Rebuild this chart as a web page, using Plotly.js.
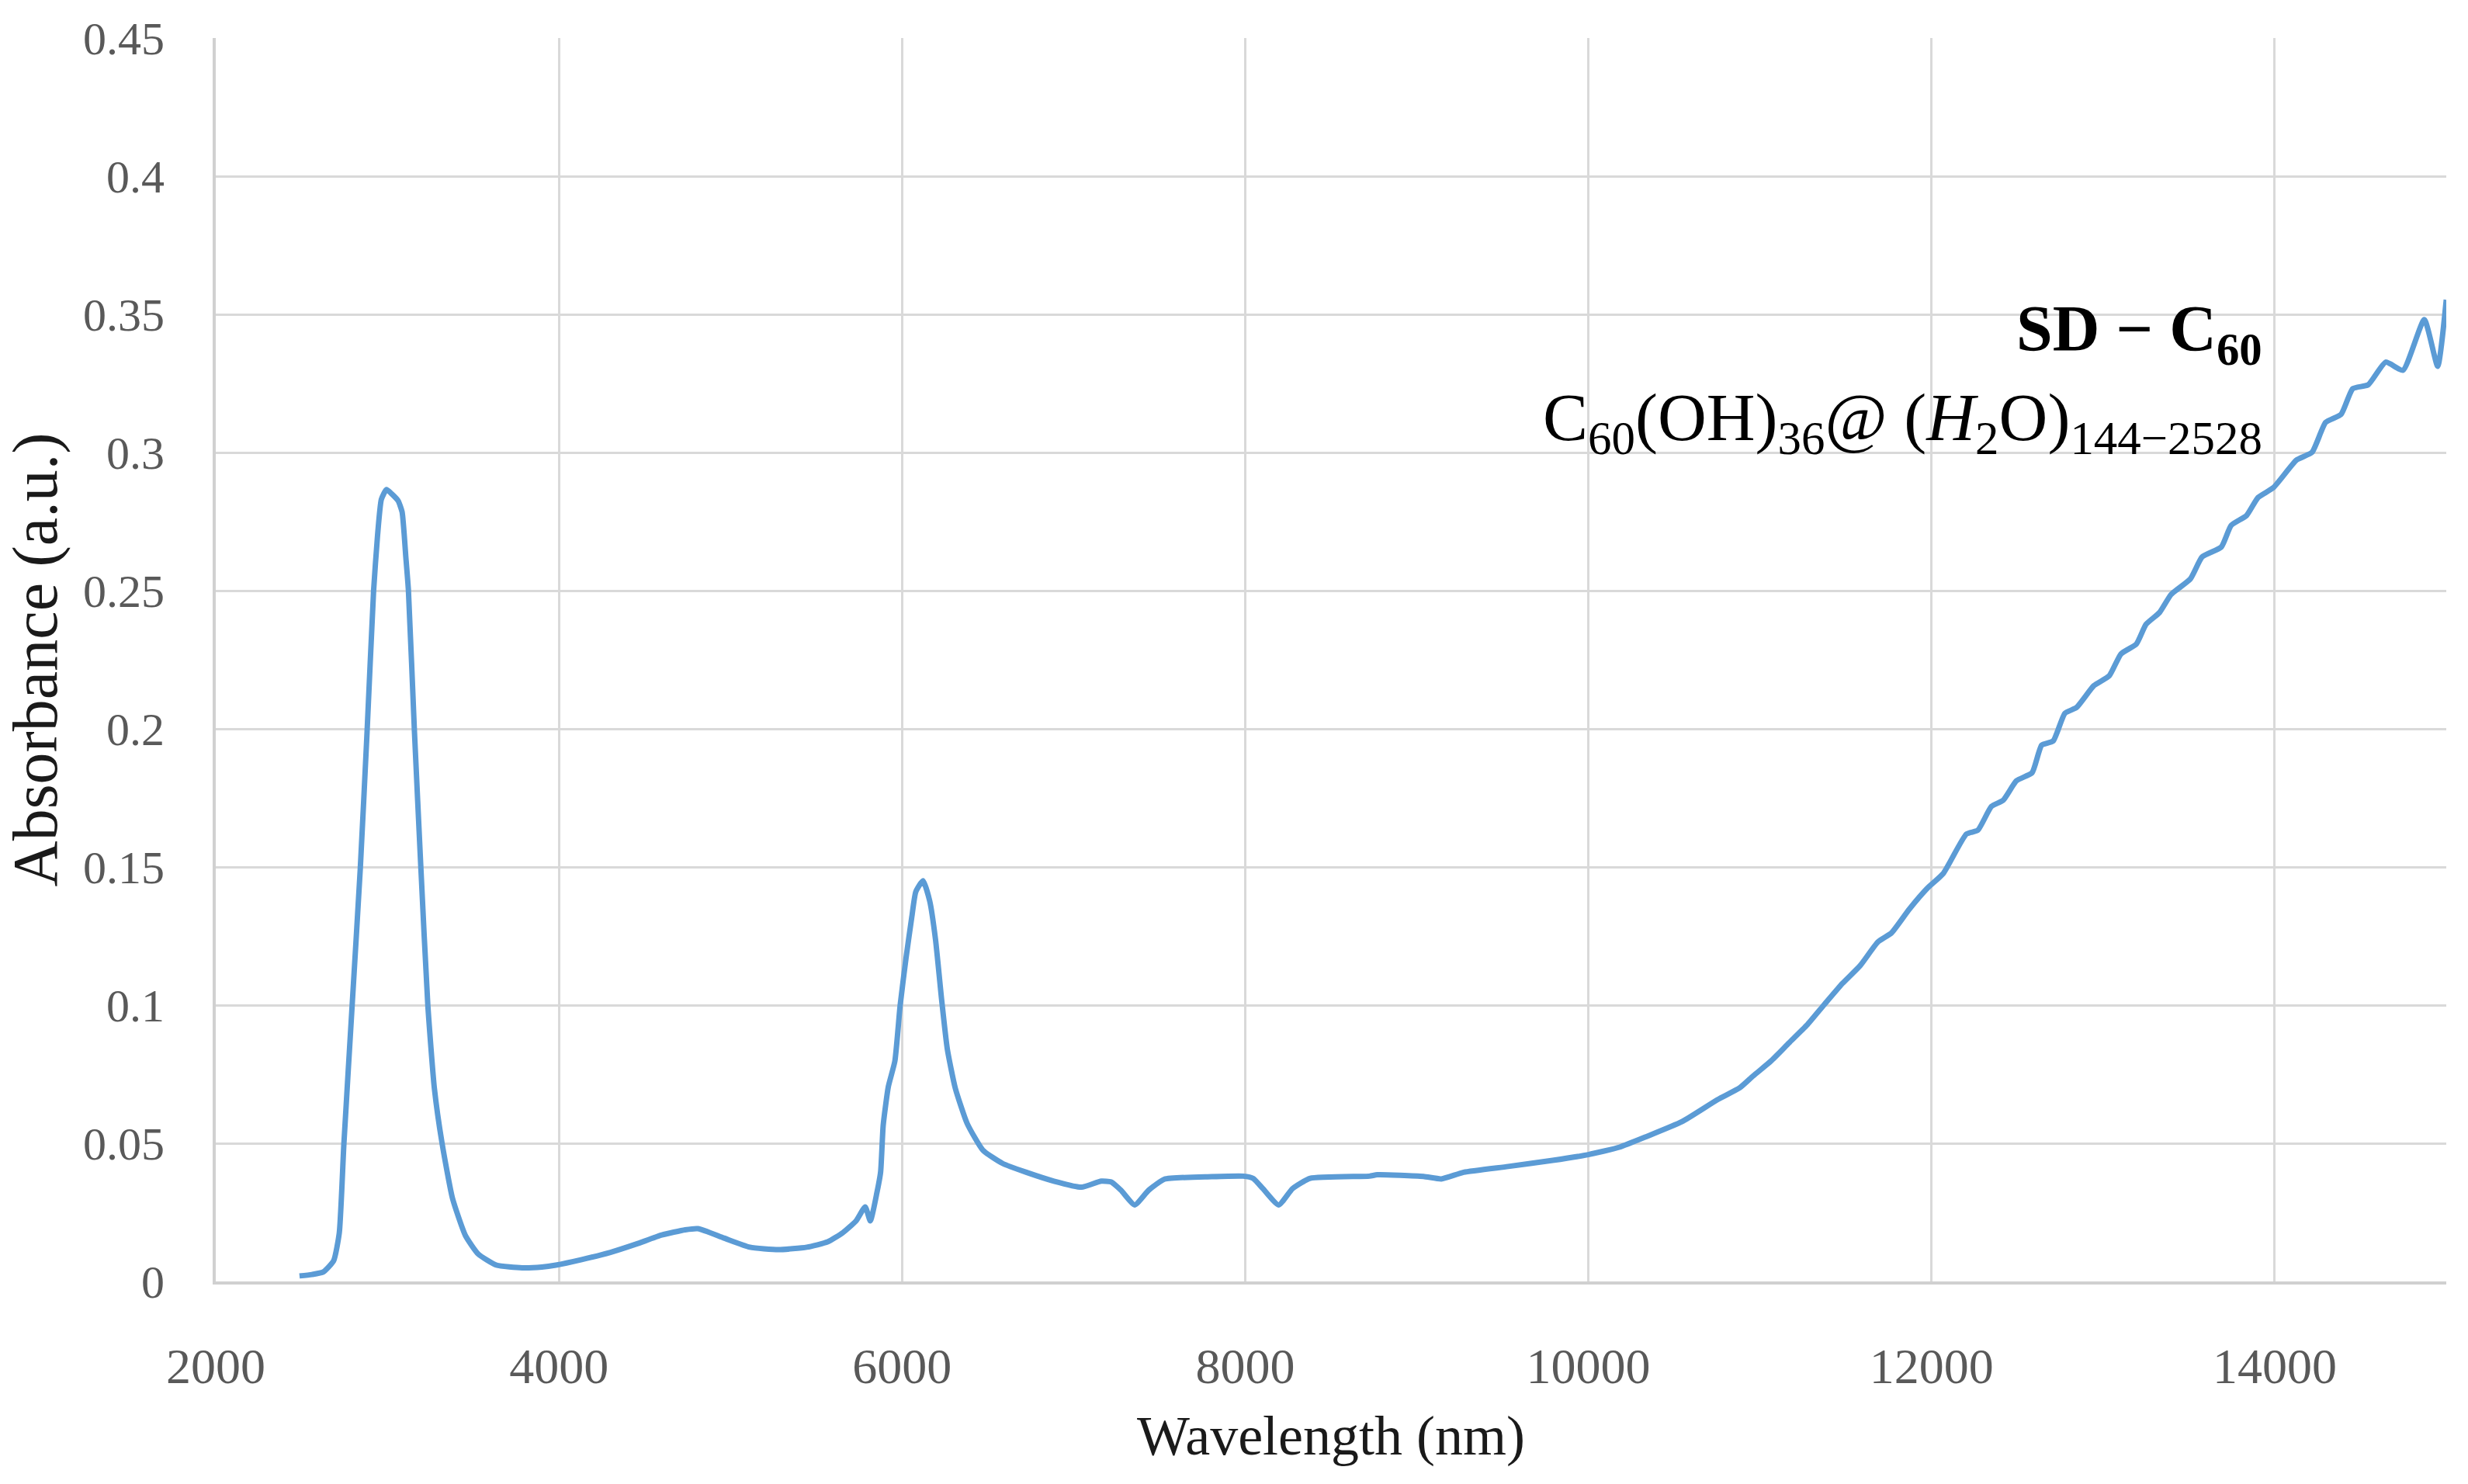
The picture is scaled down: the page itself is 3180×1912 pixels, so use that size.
<!DOCTYPE html>
<html>
<head>
<meta charset="utf-8">
<script src="https://cdn.plot.ly/plotly-3.0.1.min.js"></script>
<style>html,body{margin:0;padding:0;background:#fff;}#chart{width:3180px;height:1912px;}</style>
</head>
<body>
<div id="chart"></div>
<script>
// Wavelength (nm)
const wavelength = [
  2488, 2560, 2626, 2687, 2720, 2747, 2795, 2842, 2882, 2920, 2943, 2965, 2995, 3026, 3063, 3086, 3108, 3123, 3158, 3196, 3236, 3274, 3319, 3380, 3455, 3530, 3636, 3786, 3900, 3982, 4133,
  4300, 4450, 4600, 4736, 4811, 4962, 5113, 5279, 5445, 5566, 5656, 5732, 5785, 5815, 5853, 5875, 5890, 5920, 5958, 5989, 6023, 6057, 6080, 6122, 6161, 6195, 6230, 6264, 6310, 6379, 6471, 6586, 6724, 6885, 7046, 7161, 7218, 7276, 7356, 7437, 7529, 7805, 7989, 8046, 8103, 8195, 8276, 8379, 8724, 8770, 9039, 9143, 9273, 9533, 9792,
  10000, 10182, 10338, 10545, 10753, 10883, 10961, 11065, 11169, 11273, 11376, 11480, 11584, 11688, 11766, 11870, 11974, 12068, 12203, 12270, 12349, 12417, 12495, 12586, 12642, 12709, 12777, 12845, 12946, 13036, 13104, 13194, 13250, 13329, 13396, 13509, 13577, 13689, 13746, 13836, 13903, 13993, 14128, 14218, 14297, 14387, 14455, 14545, 14647, 14748, 14872, 14950, 15000
];
// Absorbance (a.u.)
const absorbance = [
  0.0020, 0.0025, 0.0034, 0.0075, 0.0176, 0.0500, 0.1000, 0.1490, 0.1990, 0.2500, 0.2700, 0.2830, 0.2866, 0.2850, 0.2825, 0.2785, 0.2620, 0.2500, 0.1990, 0.1490, 0.1000, 0.0700, 0.0500, 0.0300, 0.0166, 0.0099, 0.0059, 0.0049, 0.0052, 0.0059, 0.0079,
  0.0105, 0.0135, 0.0168, 0.0187, 0.0191, 0.0157, 0.0124, 0.0115, 0.0124, 0.0143, 0.0177, 0.0219, 0.0270, 0.0219, 0.0320, 0.0396, 0.0565, 0.0705, 0.0797, 0.1000, 0.1170, 0.1320, 0.1410, 0.1450, 0.1377, 0.1237, 0.1023, 0.0840, 0.0700, 0.0572, 0.0475, 0.0427, 0.0395, 0.0363, 0.0341, 0.0363, 0.0360, 0.0330, 0.0277, 0.0330, 0.0370, 0.0379, 0.0381, 0.0373, 0.0336, 0.0277, 0.0336, 0.0373, 0.0381, 0.0386, 0.0380, 0.0371, 0.0395, 0.0416, 0.0438,
  0.0459, 0.0486, 0.0524, 0.0578, 0.0658, 0.0701, 0.0744, 0.0798, 0.0863, 0.0927, 0.1003, 0.1078, 0.1143, 0.1229, 0.1261, 0.1347, 0.1422, 0.1476, 0.1619, 0.1633, 0.1719, 0.1741, 0.1812, 0.1841, 0.1941, 0.1956, 0.2056, 0.2077, 0.2156, 0.2192, 0.2271, 0.2307, 0.2378, 0.2421, 0.2486, 0.2543, 0.2622, 0.2658, 0.2736, 0.2772, 0.2837, 0.2873, 0.2973, 0.3001, 0.3109, 0.3138, 0.3231, 0.3245, 0.3327, 0.3298, 0.3481, 0.3312, 0.3553
];
const xTickValues = [2000, 4000, 6000, 8000, 10000, 12000, 14000];
const yTickValues = [0, 0.05, 0.1, 0.15, 0.2, 0.25, 0.3, 0.35, 0.4, 0.45];
const yTickLabels = ["0", "0.05", "0.1", "0.15", "0.2", "0.25", "0.3", "0.35", "0.4", "0.45"];
const labelLine1 = "<b>SD − C<sub>60</sub></b>";
const labelLine2 = "C<sub>60</sub>(OH)<sub>36</sub>@ (<i>H</i><sub>2</sub>O)<sub>144−2528</sub>";

const serif = "Liberation Serif, Times New Roman, serif";

const trace = {
  x: wavelength,
  y: absorbance,
  type: "scatter",
  mode: "lines",
  line: {color: "#5B9BD5", width: 7, shape: "spline", smoothing: 0.5},
  showlegend: false,
  hoverinfo: "skip"
};

const layout = {
  width: 3180,
  height: 1912,
  paper_bgcolor: "#ffffff",
  plot_bgcolor: "#ffffff",
  margin: {l: 278, r: 28, t: 49, b: 261},
  showlegend: false,
  xaxis: {
    range: [2000, 15000],
    tickmode: "array",
    tickvals: xTickValues,
    ticktext: xTickValues.map(String),
    showgrid: true,
    gridcolor: "#d9d9d9",
    gridwidth: 3,
    showline: true,
    linecolor: "#d0d0d0",
    linewidth: 4,
    zeroline: false,
    ticks: "",
    ticklabelstandoff: 50,
    tickfont: {family: serif, size: 64, color: "#595959"},
    title: {text: "Wavelength (nm)", font: {family: serif, size: 72, color: "#1a1a1a"}, standoff: 30}
  },
  yaxis: {
    range: [0, 0.45],
    tickmode: "array",
    tickvals: yTickValues,
    ticktext: yTickLabels,
    showgrid: true,
    gridcolor: "#d9d9d9",
    gridwidth: 3,
    showline: true,
    linecolor: "#d0d0d0",
    linewidth: 4,
    zeroline: false,
    ticks: "",
    ticklabelstandoff: 50,
    tickfont: {family: serif, size: 60, color: "#595959"},
    title: {text: "Absorbance (a.u.)", font: {family: serif, size: 82, color: "#1a1a1a"}, standoff: 34}
  },
  annotations: [
    {x: 13937, y: 0.343, xref: "x", yref: "y", xanchor: "right", yanchor: "middle", showarrow: false,
     text: labelLine1, font: {family: serif, size: 84, color: "#000000"}},
    {x: 13937, y: 0.311, xref: "x", yref: "y", xanchor: "right", yanchor: "middle", showarrow: false,
     text: labelLine2, font: {family: serif, size: 87, color: "#000000"}}
  ]
};

Plotly.newPlot("chart", [trace], layout, {staticPlot: true, displayModeBar: false});
</script>
</body>
</html>
